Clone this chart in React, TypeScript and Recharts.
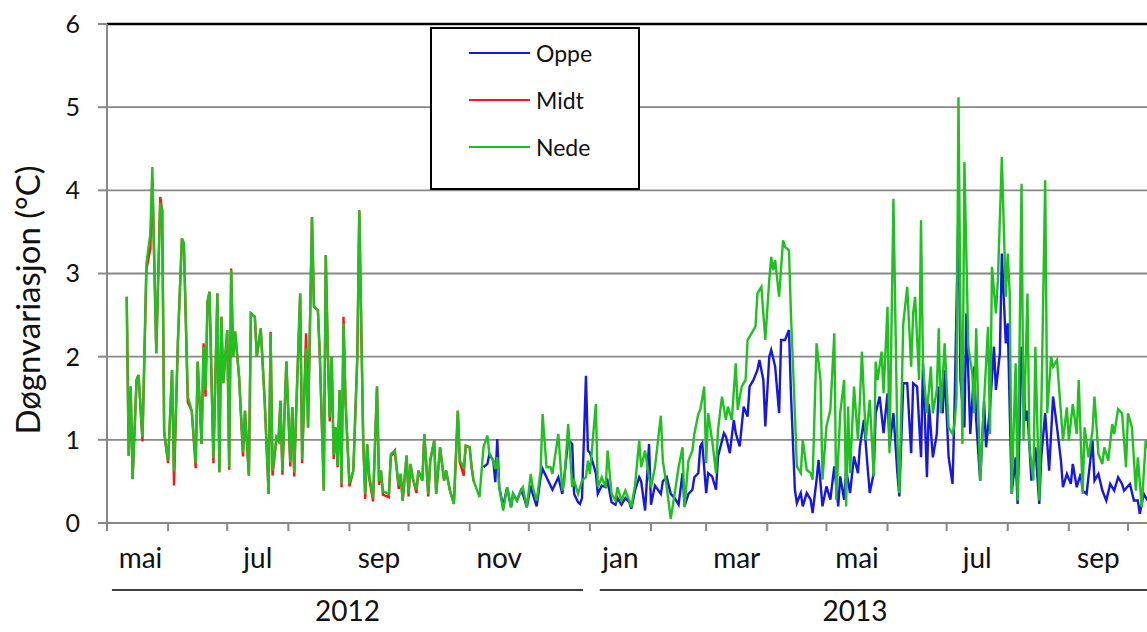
import React from 'react';
import { LineChart, Line, XAxis, YAxis, CartesianGrid, ReferenceLine, Legend } from 'recharts';

// day = days since 1 May 2012, value = daily variation (°C)
type Pt = [number, number];

// May – Oct 2012
const nedePart1: Pt[] = [
  [10, 2.72], [11, 0.81], [12, 1.64], [13, 0.53], [15, 1.72], [16, 1.78], [18, 1.03], [20, 3.12], [22, 3.48], [23, 4.28],
  [25, 2.04], [27, 3.85], [28, 3.76], [29, 1.11], [31, 0.75], [33, 1.84], [34, 0.62], [36, 2.2], [38, 3.42], [39, 3.36],
  [41, 1.52], [43, 1.35], [45, 0.72], [46, 1.94], [48, 0.95], [49, 2.12], [50, 1.6], [51, 2.66], [52, 2.78], [54, 0.78],
  [56, 2.76], [57, 0.61], [58, 2.48], [59, 1.68], [61, 2.32], [62, 0.67], [63, 3.04], [64, 2.0], [65, 2.3], [67, 1.76],
  [69, 0.85], [70, 1.35], [72, 0.57], [73, 2.52], [75, 2.48], [76, 2.0], [78, 2.34], [80, 1.47], [82, 0.35], [83, 2.28],
  [84, 0.63], [86, 1.03], [87, 0.99], [88, 1.47], [89, 0.63], [91, 1.94], [93, 0.73], [94, 1.39], [95, 0.61], [96, 1.35],
  [98, 2.76], [99, 0.77], [101, 2.1], [102, 1.15], [104, 3.68], [105, 2.6], [107, 2.56], [108, 2.0], [110, 0.39], [111, 3.22],
  [112, 2.08], [113, 1.27], [114, 2.0], [115, 0.82], [116, 1.15], [117, 0.69], [118, 1.6], [119, 0.47], [120, 2.4], [121, 1.47],
  [123, 0.48], [125, 0.63], [127, 2.0], [128, 3.76], [130, 0.99], [131, 0.35], [132, 0.95], [133, 0.58], [135, 0.3], [137, 1.64],
  [138, 0.5], [139, 0.63], [140, 0.38], [143, 0.35], [144, 0.83], [146, 0.87], [148, 0.45], [149, 0.59], [150, 0.27], [152, 0.81],
  [153, 0.35], [154, 0.71], [155, 0.55], [157, 0.4], [158, 0.63], [160, 0.51], [161, 1.07], [163, 0.35], [164, 0.75], [166, 0.99],
  [167, 0.35], [169, 0.91], [171, 0.51], [172, 0.63], [174, 0.39], [176, 0.23], [178, 1.35], [179, 0.75], [181, 0.67], [182, 0.93],
  [184, 0.91], [185, 0.67], [186, 0.51],
];

const midtPart1: Pt[] = [
  [10, 2.72], [11, 0.81], [12, 1.64], [13, 0.53], [15, 1.72], [16, 1.78], [18, 0.98], [20, 3.05], [22, 3.3], [23, 4.15],
  [25, 2.04], [27, 3.92], [28, 3.76], [29, 1.08], [31, 0.72], [33, 1.84], [34, 0.45], [36, 2.2], [38, 3.42], [39, 3.36],
  [41, 1.45], [43, 1.35], [45, 0.66], [46, 1.94], [48, 0.95], [49, 2.16], [50, 1.52], [51, 2.66], [52, 2.78], [54, 0.72],
  [56, 2.76], [57, 0.61], [58, 2.48], [59, 1.68], [61, 2.32], [62, 0.64], [63, 3.06], [64, 2.0], [65, 2.3], [67, 1.76],
  [69, 0.8], [70, 1.35], [72, 0.57], [73, 2.52], [75, 2.48], [76, 2.0], [78, 2.34], [80, 1.47], [82, 0.35], [83, 2.3],
  [84, 0.57], [86, 1.03], [87, 0.99], [88, 1.47], [89, 0.58], [91, 1.94], [93, 0.68], [94, 1.39], [95, 0.56], [96, 1.35],
  [98, 2.76], [99, 0.72], [101, 2.28], [102, 1.15], [104, 3.68], [105, 2.6], [107, 2.56], [108, 2.0], [110, 0.39], [111, 3.22],
  [112, 2.08], [113, 1.22], [114, 2.0], [115, 0.77], [116, 1.15], [117, 0.67], [118, 1.6], [119, 0.43], [120, 2.48], [121, 1.47],
  [123, 0.44], [125, 0.63], [127, 2.0], [128, 3.76], [130, 0.99], [131, 0.29], [132, 0.95], [133, 0.54], [135, 0.26], [137, 1.64],
  [138, 0.46], [139, 0.63], [140, 0.34], [143, 0.31], [144, 0.8], [146, 0.87], [148, 0.41], [149, 0.59], [150, 0.27], [152, 0.81],
  [153, 0.32], [154, 0.71], [155, 0.55], [157, 0.36], [158, 0.63], [160, 0.51], [161, 1.07], [163, 0.32], [164, 0.75], [166, 0.99],
  [167, 0.35], [169, 0.91], [171, 0.51], [172, 0.63], [174, 0.39], [176, 0.23], [178, 1.35], [179, 0.73], [181, 0.57], [182, 0.93],
  [184, 0.91], [185, 0.67], [186, 0.5],
];

// Nov 2012 – Oct 2013
const nedePart2: Pt[] = [
  [189, 0.31], [191, 0.91], [193, 1.05], [194, 0.83], [196, 0.75], [197, 0.65], [198, 0.79], [199, 0.43], [201, 0.15], [203, 0.43],
  [205, 0.19], [206, 0.35], [208, 0.27], [210, 0.39], [211, 0.43], [213, 0.19], [215, 0.59], [216, 0.43], [218, 0.27], [220, 0.63],
  [221, 1.31], [223, 0.67], [225, 0.67], [226, 0.59], [229, 1.07], [231, 0.39], [232, 0.51], [234, 1.19], [236, 0.43], [237, 0.51],
  [239, 0.35], [241, 0.51], [243, 0.55], [244, 0.75], [245, 0.59], [248, 1.43], [249, 0.43], [251, 0.55], [253, 0.43], [254, 0.87],
  [256, 0.35], [258, 0.27], [259, 0.43], [261, 0.27], [263, 0.39], [265, 0.27], [266, 0.19], [268, 0.47], [270, 0.99], [271, 0.67],
  [273, 0.87], [275, 0.55], [276, 0.43], [278, 0.67], [281, 1.29], [282, 0.75], [284, 0.43], [286, 0.05], [288, 0.35], [290, 0.67],
  [292, 0.91], [293, 0.19], [295, 0.75], [297, 0.87], [298, 1.07], [300, 1.31], [301, 1.36], [303, 1.64], [304, 0.72], [305, 1.32],
  [307, 1.0], [309, 0.6], [310, 1.12], [312, 1.52], [314, 1.24], [315, 1.4], [317, 1.24], [319, 1.92], [320, 1.36], [322, 1.64],
  [324, 1.72], [325, 2.2], [327, 2.28], [329, 2.36], [330, 2.76], [332, 2.84], [334, 2.2], [336, 2.92], [337, 3.2], [338, 3.04],
  [339, 3.16], [341, 2.72], [343, 3.4], [344, 3.32], [346, 3.28], [347, 2.52], [349, 1.32], [350, 0.68], [352, 0.6], [353, 1.0],
  [355, 0.64], [357, 0.6], [358, 0.52], [360, 2.16], [362, 1.72], [363, 0.52], [365, 1.16], [367, 1.36], [369, 2.28], [370, 0.28],
  [372, 1.32], [374, 1.72], [375, 0.2], [376, 1.4], [377, 0.6], [379, 1.64], [381, 1.0], [382, 1.48], [383, 2.06], [385, 1.0],
  [387, 1.48], [389, 0.56], [390, 1.94], [391, 1.72], [393, 2.06], [394, 1.56], [396, 2.6], [397, 0.84], [398, 2.32], [399, 3.9],
  [401, 1.0], [402, 0.36], [404, 2.4], [406, 2.84], [408, 1.88], [409, 2.52], [410, 2.72], [412, 1.72], [413, 3.64], [414, 1.88],
  [416, 1.32], [418, 1.88], [419, 1.32], [421, 1.6], [422, 2.34], [423, 1.32], [425, 2.16], [427, 1.15], [429, 1.07], [430, 1.19],
  [431, 1.5], [432, 5.12], [433, 2.52], [434, 0.95], [435, 4.34], [437, 2.12], [439, 1.8], [440, 1.32], [441, 2.34], [443, 0.51],
  [445, 1.47], [447, 2.36], [448, 1.07], [449, 3.08], [451, 2.52], [452, 2.92], [454, 4.4], [456, 2.72], [457, 3.24], [458, 2.76],
  [459, 0.35], [461, 1.92], [462, 0.27], [464, 4.08], [465, 0.99], [467, 2.76], [468, 0.91], [470, 0.51], [471, 2.12], [473, 0.27],
  [474, 1.32], [476, 4.12], [477, 1.32], [479, 2.0], [480, 1.88], [482, 1.96], [484, 1.32], [485, 0.99], [487, 1.39], [488, 0.99],
  [490, 1.43], [492, 1.07], [493, 1.72], [495, 0.35], [496, 1.15], [498, 0.79], [500, 1.11], [501, 1.52], [503, 0.83], [505, 0.71],
  [506, 0.91], [508, 0.75], [510, 1.19], [511, 1.07], [513, 1.37], [515, 1.32], [517, 0.67], [518, 1.32], [520, 1.15], [522, 0.39],
  [523, 0.79], [525, 0.19], [527, 0.99], [528, 0.9],
];

const oppePart2: Pt[] = [
  [191, 0.67], [193, 0.71], [194, 0.83], [196, 0.75], [197, 0.49], [198, 1.01], [199, 0.43], [201, 0.2], [203, 0.43], [205, 0.19],
  [206, 0.35], [208, 0.27], [210, 0.39], [211, 0.35], [213, 0.19], [215, 0.45], [216, 0.35], [218, 0.2], [220, 0.55], [221, 0.65],
  [223, 0.55], [225, 0.45], [226, 0.4], [229, 0.55], [231, 0.35], [232, 0.55], [234, 1.0], [236, 0.95], [237, 0.35], [239, 0.25],
  [240, 0.23], [241, 0.3], [243, 1.77], [244, 0.87], [245, 0.85], [248, 0.6], [249, 0.35], [251, 0.45], [253, 0.43], [254, 0.5],
  [256, 0.25], [258, 0.22], [259, 0.3], [261, 0.22], [263, 0.3], [265, 0.25], [266, 0.17], [268, 0.4], [270, 0.55], [271, 0.5],
  [273, 0.15], [275, 0.95], [276, 0.22], [278, 0.45], [281, 0.35], [282, 0.5], [284, 0.55], [286, 0.35], [288, 0.3], [290, 0.22],
  [292, 0.6], [293, 0.2], [295, 0.35], [297, 0.4], [298, 0.55], [300, 0.6], [301, 0.92], [302, 0.96], [304, 0.36], [305, 0.6],
  [307, 0.56], [309, 0.4], [310, 0.8], [313, 1.08], [314, 1.04], [316, 0.84], [318, 1.24], [319, 1.08], [321, 0.92], [323, 1.4],
  [325, 1.28], [326, 1.64], [328, 1.72], [330, 1.84], [331, 1.96], [333, 1.72], [334, 1.16], [336, 2.0], [337, 2.08], [339, 1.88],
  [341, 1.32], [342, 2.2], [344, 2.2], [346, 2.32], [347, 1.56], [349, 0.4], [350, 0.24], [352, 0.36], [353, 0.2], [355, 0.36],
  [357, 0.28], [358, 0.12], [360, 0.52], [361, 0.76], [363, 0.2], [365, 0.44], [367, 0.28], [369, 0.68], [371, 0.2], [372, 0.56],
  [374, 0.28], [375, 0.64], [377, 0.36], [379, 0.8], [381, 0.6], [382, 0.92], [384, 1.24], [386, 0.64], [387, 0.36], [389, 0.6],
  [390, 1.32], [392, 1.52], [394, 1.08], [396, 1.56], [397, 0.92], [399, 1.32], [401, 0.6], [402, 0.32], [404, 1.68], [406, 1.68],
  [408, 0.84], [409, 1.68], [411, 1.64], [413, 0.79], [414, 1.92], [416, 0.55], [417, 1.43], [419, 0.79], [421, 1.07], [422, 1.64],
  [424, 1.32], [425, 1.84], [427, 0.79], [429, 0.47], [430, 1.39], [432, 3.8], [433, 1.72], [435, 1.15], [436, 2.52], [438, 1.07],
  [440, 1.88], [441, 1.23], [443, 0.51], [445, 1.47], [446, 0.91], [448, 1.39], [450, 2.12], [451, 1.6], [453, 2.04], [454, 3.24],
  [456, 2.16], [457, 2.4], [459, 0.35], [461, 0.79], [462, 0.23], [464, 2.12], [466, 1.23], [467, 1.35], [469, 0.51], [471, 0.91],
  [473, 0.23], [474, 0.79], [476, 1.32], [478, 0.63], [480, 1.52], [482, 1.15], [484, 0.75], [485, 0.43], [487, 0.59], [489, 0.47],
  [490, 0.71], [492, 0.43], [494, 0.59], [495, 0.39], [497, 0.35], [500, 0.99], [501, 0.51], [503, 0.59], [505, 0.39], [507, 0.27],
  [509, 0.47], [511, 0.39], [513, 0.55], [515, 0.47], [516, 0.39], [519, 0.47], [521, 0.27], [523, 0.27], [524, 0.11], [526, 0.35],
  [528, 0.27],
];

const seriesNames = ['Oppe', 'Midt', 'Nede'];
const seriesColors = ['#1616e8', '#ff1414', '#1ec21e'];

const yTicks = [0, 1, 2, 3, 4, 5, 6];
const monthStartDays = [0, 31, 61, 92, 123, 153, 184, 214, 245, 276, 304, 335, 365, 396, 426, 457, 488, 518];
const monthLabelDays = [17, 76.5, 138, 199, 260.5, 319.5, 380.5, 441.5, 503];
const monthLabels = ['mai', 'jul', 'sep', 'nov', 'jan', 'mar', 'mai', 'jul', 'sep'];
const yearLabelDays = [122, 379.5];
const yearLabels = ['2012', '2013'];
const yearSpans: Pt[] = [[2.5, 241.5], [250, 527.65]];

const X_MAX = 527.65;
const YEAR_LINE_Y = -0.806;
const GRID = '#888888';
const TEXT = '#111111';
const FONT = 'Lato, "Open Sans", sans-serif';

const toRows = (pts: Pt[]) => pts.map(([day, v]) => ({ day, v }));

// one axis carries month boundary ticks, month names and year names
const AxisTick = (props: any) => {
  const { x, y, payload } = props;
  const v = payload.value;
  const m = monthLabelDays.indexOf(v);
  if (m >= 0) {
    return (
      <text x={x} y={y + 45} textAnchor="middle" fontSize={28} fill={TEXT} fontFamily={FONT}>
        {monthLabels[m]}
      </text>
    );
  }
  const yr = yearLabelDays.indexOf(v);
  if (yr >= 0) {
    return (
      <text x={x} y={y + 98} textAnchor="middle" fontSize={28} fill={TEXT} fontFamily={FONT}>
        {yearLabels[yr]}
      </text>
    );
  }
  return <line x1={x} x2={x} y1={y} y2={y + 8} stroke={GRID} strokeWidth={2} />;
};

const LegendBox = () => (
  <div style={{ width: 210, height: 163, boxSizing: 'border-box', border: '2px solid #000', background: '#fff', fontFamily: FONT }}>
    {seriesNames.map((name, i) => (
      <div key={name} style={{ display: 'flex', alignItems: 'center', height: 47 }}>
        <div style={{ marginLeft: 37, width: 61, height: 2, background: seriesColors[i] }} />
        <span style={{ marginLeft: 6, fontSize: 23, color: TEXT }}>{name}</span>
      </div>
    ))}
  </div>
);

const YTitle = () => (
  <text x={40} y={300} transform="rotate(-90 40 300)" textAnchor="middle" fontSize={33} fill={TEXT} fontFamily={FONT}>
    Døgnvariasjon (°C)
  </text>
);

const App = () => {
  const seriesData = [toRows(oppePart2), toRows(midtPart1), toRows([...nedePart1, ...nedePart2])];
  const xTicks = [...monthStartDays, ...monthLabelDays, ...yearLabelDays];

  return (
    <div style={{ position: 'absolute', left: 0, top: 0, width: 1147, height: 632, overflow: 'hidden', background: '#fff', fontFamily: FONT }}>
      <LineChart width={1147} height={632} margin={{ top: 24, right: 0, bottom: 0, left: 0 }}>
        <CartesianGrid horizontal vertical={false} stroke={GRID} strokeWidth={1.8} />
        <XAxis
          type="number"
          dataKey="day"
          domain={[0, X_MAX]}
          allowDataOverflow
          ticks={xTicks}
          interval={0}
          tick={<AxisTick />}
          tickLine={false}
          tickSize={0}
          tickMargin={0}
          height={109}
          axisLine={{ stroke: GRID, strokeWidth: 2 }}
        />
        <YAxis
          type="number"
          domain={[0, 6]}
          ticks={yTicks}
          interval={0}
          width={107}
          tickSize={9}
          tickMargin={18}
          axisLine={{ stroke: GRID, strokeWidth: 2 }}
          tickLine={{ stroke: GRID, strokeWidth: 2 }}
          tick={{ fontSize: 25, fill: TEXT }}
          label={<YTitle />}
        />
        <ReferenceLine y={6} stroke="#000" strokeWidth={2.5} />
        {yearSpans.map(([s, e]) => (
          <ReferenceLine
            key={s}
            segment={[{ x: s, y: YEAR_LINE_Y }, { x: e, y: YEAR_LINE_Y }]}
            ifOverflow="visible"
            stroke="#000"
            strokeWidth={1.5}
          />
        ))}
        {seriesNames.map((name, i) => (
          <Line
            key={name}
            data={seriesData[i]}
            dataKey="v"
            name={name}
            type="linear"
            stroke={seriesColors[i]}
            strokeWidth={2.4}
            dot={false}
            activeDot={false}
            isAnimationActive={false}
          />
        ))}
        <Legend
          content={<LegendBox />}
          layout="horizontal"
          verticalAlign="middle"
          align="center"
          wrapperStyle={{ left: 430, top: 27, width: 210, height: 163 }}
        />
      </LineChart>
    </div>
  );
};

export default App;
